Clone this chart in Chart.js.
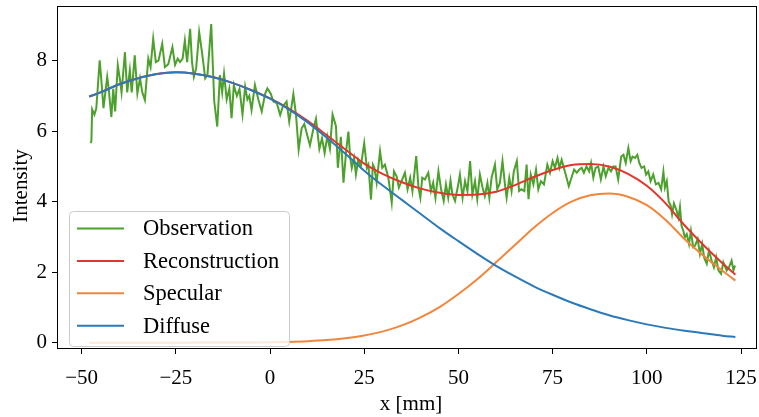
<!DOCTYPE html>
<html>
<head>
<meta charset="utf-8">
<script src="https://cdn.jsdelivr.net/npm/chart.js@4.4.0/dist/chart.umd.min.js"></script>
<style>
html, body { margin: 0; padding: 0; background: #fff; }
canvas { display: block; }
</style>
</head>
<body>
<canvas id="chart" width="759" height="417"></canvas>
<script>
// observation (noisy measurement)
var obsX = [
    -47.6, -47.4, -47.2, -46.6, -46.1, -45.2, -44.8, -44.2, -43.2, -42.8,
    -42.1, -41.6, -41.1, -40.4, -39.8, -39.4, -38.5, -37.9, -37.2, -36.7,
    -35.9, -35.2, -34.5, -33.9, -33.2, -32.3, -31.7, -31.0, -30.3, -29.6,
    -28.6, -27.9, -27.0, -25.9, -25.2, -24.5, -23.9, -23.2, -22.6, -22.0,
    -21.2, -20.7, -20.2, -19.6, -18.8, -18.0, -17.2, -16.6, -15.6, -14.8,
    -14.0, -13.3, -12.7, -12.2, -11.5, -10.8, -10.2, -9.6, -8.8, -8.1,
    -7.3, -6.6, -6.0, -5.5, -4.9, -4.0, -3.1, -2.2, -1.3, -0.7,
    0.2, 0.9, 1.8, 2.7, 3.4, 4.4, 5.1, 6.2, 6.9, 7.6,
    8.4, 9.1, 9.9, 10.6, 11.5, 12.2, 13.1, 13.8, 14.5, 15.2,
    15.9, 16.6, 17.5, 18.0, 18.8, 19.5, 20.2, 20.8, 21.3, 21.7,
    22.3, 22.8, 23.4, 24.1, 25.0, 25.7, 26.1, 26.8, 27.3, 27.7,
    28.3, 29.2, 29.8, 30.5, 31.4, 32.3, 32.9, 33.6, 34.2, 34.9,
    35.8, 36.5, 37.2, 37.8, 38.8, 39.4, 39.9, 40.4, 41.1, 42.0,
    42.7, 43.3, 43.9, 44.7, 45.4, 46.1, 46.7, 47.3, 47.9, 48.4,
    49.1, 49.8, 50.4, 51.1, 51.75, 52.4, 53.1, 53.7, 54.4, 55.0,
    55.7, 56.4, 57.0, 57.7, 58.2, 58.8, 59.7, 60.3, 61.0, 61.7,
    62.4, 62.8, 63.5, 64.1, 64.7, 65.5, 66.1, 66.7, 67.5, 68.1,
    68.6, 69.2, 69.9, 70.6, 71.2, 71.9, 72.7, 73.6, 74.3, 75.0,
    75.6, 76.3, 76.8, 77.4, 78.1, 78.7, 79.3, 80.0, 80.7, 81.4,
    82.1, 82.7, 83.3, 84.0, 84.7, 85.2, 85.8, 86.4, 87.1, 87.8,
    88.5, 89.1, 89.8, 90.5, 91.1, 91.7, 92.4, 93.2, 93.8, 94.4,
    95.1, 95.7, 96.2, 96.9, 97.5, 98.0, 98.6, 99.3, 99.8, 100.4,
    101.0, 101.7, 102.4, 103.1, 103.8, 104.4, 104.8, 105.3, 105.8, 106.3,
    106.7, 107.2, 107.9, 108.4, 108.8, 109.2, 109.7, 110.1, 110.6, 111.2,
    111.7, 112.3, 112.8, 113.5, 114.1, 114.7, 115.2, 115.9, 116.5, 117.2,
    117.8, 118.4, 119.0, 119.7, 120.3, 121.2, 121.8, 122.5, 123.0, 123.4
];
var obsY = [
    5.66, 5.72, 6.62, 6.47, 6.65, 8.01, 7.50, 6.65, 7.54, 7.20,
    6.40, 7.20, 6.56, 7.87, 7.45, 7.10, 8.24, 7.10, 7.73, 7.10,
    8.15, 7.07, 7.50, 7.10, 6.88, 8.06, 7.82, 8.62, 7.96, 8.00,
    8.48, 7.82, 7.90, 8.38, 7.88, 8.06, 7.96, 8.06, 8.57, 7.96,
    8.90, 7.96, 7.54, 7.78, 8.81, 8.20, 7.50, 7.59, 9.04, 6.84,
    6.13, 7.59, 7.10, 7.63, 6.90, 7.20, 6.37, 7.30, 7.00, 7.20,
    6.47, 7.26, 6.90, 7.00, 6.60, 7.31, 6.90, 6.56, 7.06, 7.21,
    7.06, 6.84, 6.80, 6.46, 6.70, 6.84, 6.27, 7.05, 6.46, 5.48,
    6.08, 6.20, 5.88, 5.60, 6.06, 6.35, 5.50, 5.80, 5.38, 5.85,
    5.50, 6.47, 6.14, 4.96, 5.84, 4.54, 5.43, 5.99, 5.24, 4.96,
    5.24, 4.77, 5.19, 5.00, 5.66, 4.96, 5.05, 4.06, 5.05, 4.96,
    4.54, 5.43, 4.96, 5.05, 4.68, 3.97, 4.86, 4.72, 4.40, 4.58,
    4.82, 4.35, 4.68, 4.30, 5.29, 4.40, 4.11, 4.68, 4.63, 4.82,
    4.30, 4.54, 4.11, 4.86, 4.35, 4.02, 4.49, 4.11, 4.60, 4.21,
    4.02, 4.40, 4.77, 4.11, 4.58, 4.30, 5.15, 4.21, 4.58, 4.07,
    4.77, 4.40, 4.16, 4.53, 4.11, 4.68, 5.05, 4.35, 4.53, 5.15,
    4.44, 4.11, 4.68, 4.30, 4.86, 5.15, 4.30, 4.35, 4.30, 5.05,
    4.07, 4.77, 4.49, 4.91, 4.35, 4.58, 4.49, 5.05, 4.82, 5.15,
    4.96, 5.24, 4.96, 5.19, 4.91, 4.68, 4.44, 4.68, 4.91, 4.82,
    4.91, 4.96, 4.82, 5.00, 4.86, 5.10, 4.68, 4.96, 5.00, 4.63,
    5.00, 4.72, 4.96, 4.86, 5.00, 5.00, 4.63, 5.28, 5.33, 5.10,
    5.52, 5.15, 5.28, 5.24, 5.33, 5.10, 4.96, 5.00, 4.77, 4.86,
    4.58, 4.77, 4.49, 4.53, 4.35, 4.85, 4.40, 4.58, 4.00, 3.90,
    3.64, 3.95, 3.75, 3.55, 3.85, 3.32, 3.17, 2.99, 3.08, 2.80,
    3.17, 2.71, 2.75, 2.94, 2.52, 2.80, 2.42, 2.24, 2.61, 2.33,
    2.14, 2.42, 2.05, 1.95, 2.28, 2.05, 2.14, 2.33, 2.05, 2.19
];

// fitted model curves
var fitX = [-48, -45, -40, -35, -30, -25, -20, -15, -10, -5, 0, 5, 10, 15, 20, 25, 30, 35,
    40, 45, 50, 55, 60, 65, 70, 75, 80, 85, 90, 95, 100, 105, 110, 115, 120, 123.5];
var reconY = [6.98, 7.10, 7.33, 7.50, 7.62, 7.67, 7.63, 7.53, 7.37, 7.17, 6.93, 6.64, 6.29, 5.89, 5.48, 5.08, 4.78, 4.55,
    4.37, 4.25, 4.19, 4.20, 4.28, 4.47, 4.70, 4.90, 5.04, 5.07, 5.00, 4.79, 4.45, 3.95, 3.33, 2.77, 2.26, 1.93];
var specularY = [0, 0, 0, 0, 0, 0.001, 0.002, 0.003, 0.005, 0.008, 0.012, 0.023, 0.042, 0.073, 0.125, 0.205, 0.32, 0.49,
    0.72, 1.01, 1.38, 1.80, 2.28, 2.77, 3.26, 3.68, 4.00, 4.18, 4.23, 4.14, 3.90, 3.48, 2.94, 2.47, 2.05, 1.76];
var diffuseY = [6.98, 7.10, 7.33, 7.50, 7.62, 7.67, 7.63, 7.53, 7.37, 7.16, 6.92, 6.62, 6.25, 5.82, 5.36, 4.88, 4.45, 4.05,
    3.65, 3.25, 2.88, 2.52, 2.18, 1.88, 1.60, 1.36, 1.14, 0.95, 0.78, 0.64, 0.52, 0.42, 0.34, 0.27, 0.20, 0.16];

var xTicks = [-50, -25, 0, 25, 50, 75, 100, 125];
var yTicks = [0, 2, 4, 6, 8];
var seriesNames = ['Observation', 'Reconstruction', 'Specular', 'Diffuse'];
var seriesColors = ['#4ca12c', '#e3352c', '#f3853b', '#2c79b9'];

var FONT = '"Liberation Serif", "DejaVu Serif", serif';

function toPoints(xs, ys) {
    return xs.map(function (x, i) { return { x: x, y: ys[i] }; });
}

function tickLabel(v) {
    return v < 0 ? '\u2212' + Math.abs(v) : String(v);
}

// frame, axis titles and the boxed legend, drawn like matplotlib does
var decorPlugin = {
    id: 'decor',
    afterDraw: function (chart) {
        var ctx = chart.ctx;
        var a = chart.chartArea;
        ctx.save();

        ctx.strokeStyle = '#000';
        ctx.lineWidth = 1;
        ctx.strokeRect(a.left + 0.5, a.top + 0.5, a.right - a.left - 1, a.bottom - a.top - 1);

        ctx.fillStyle = '#000';
        ctx.font = '21px ' + FONT;
        ctx.textAlign = 'center';
        ctx.textBaseline = 'middle';
        ctx.fillText('x [mm]', 411, 404);
        ctx.save();
        ctx.translate(21, 186);
        ctx.rotate(-Math.PI / 2);
        ctx.fillText('Intensity', 0, 0);
        ctx.restore();

        // legend box
        var bx = 69.5, by = 211.5, bw = 220, bh = 135, r = 4;
        ctx.beginPath();
        ctx.moveTo(bx + r, by);
        ctx.arcTo(bx + bw, by, bx + bw, by + bh, r);
        ctx.arcTo(bx + bw, by + bh, bx, by + bh, r);
        ctx.arcTo(bx, by + bh, bx, by, r);
        ctx.arcTo(bx, by, bx + bw, by, r);
        ctx.closePath();
        ctx.fillStyle = 'rgba(255,255,255,0.8)';
        ctx.fill();
        ctx.strokeStyle = '#cccccc';
        ctx.stroke();

        ctx.font = '22.5px ' + FONT;
        ctx.textAlign = 'left';
        ctx.textBaseline = 'middle';
        seriesNames.forEach(function (name, i) {
            var y = 228.5 + i * 32.4;
            ctx.strokeStyle = seriesColors[i];
            ctx.lineWidth = 2;
            ctx.beginPath();
            ctx.moveTo(77, y);
            ctx.lineTo(124, y);
            ctx.stroke();
            ctx.fillStyle = '#000';
            ctx.fillText(name, 143, y + 1);
        });
        ctx.restore();
    }
};

function axisCommon(ticks, fixSize, pad) {
    return {
        type: 'linear',
        afterBuildTicks: function (s) {
            s.ticks = ticks.map(function (v) { return { value: v }; });
        },
        afterFit: function (s) {
            fixSize(s);
            s.paddingTop = 0; s.paddingBottom = 0;
            s.paddingLeft = 0; s.paddingRight = 0;
        },
        grid: { drawOnChartArea: false, drawTicks: true, tickLength: 5, color: '#000', lineWidth: 1 },
        border: { display: false },
        ticks: {
            color: '#000',
            font: { family: FONT, size: 21 },
            padding: pad,
            maxRotation: 0,
            autoSkip: false,
            callback: tickLabel
        }
    };
}

var xAxis = axisCommon(xTicks, function (s) { s.height = 68; }, 12);
xAxis.min = -56.53;
xAxis.max = 129.24;
var yAxis = axisCommon(yTicks, function (s) { s.width = 57; }, 5);
yAxis.min = -0.179;
yAxis.max = 9.55;

var lineStyle = { pointRadius: 0, borderWidth: 2, fill: false };

new Chart(document.getElementById('chart'), {
    type: 'line',
    data: {
        datasets: [
            Object.assign({ label: seriesNames[0], data: toPoints(obsX, obsY), borderColor: seriesColors[0], tension: 0, order: 4 }, lineStyle),
            Object.assign({ label: seriesNames[1], data: toPoints(fitX, reconY), borderColor: seriesColors[1], cubicInterpolationMode: 'monotone', order: 3 }, lineStyle),
            Object.assign({ label: seriesNames[2], data: toPoints(fitX, specularY), borderColor: seriesColors[2], cubicInterpolationMode: 'monotone', order: 2 }, lineStyle),
            Object.assign({ label: seriesNames[3], data: toPoints(fitX, diffuseY), borderColor: seriesColors[3], cubicInterpolationMode: 'monotone', order: 1 }, lineStyle)
        ]
    },
    options: {
        responsive: false,
        animation: false,
        devicePixelRatio: 1,
        layout: { padding: { top: 6, right: 2, left: 0, bottom: 0 } },
        plugins: { legend: { display: false }, tooltip: { enabled: false } },
        scales: { x: xAxis, y: yAxis }
    },
    plugins: [decorPlugin]
});
</script>
</body>
</html>
